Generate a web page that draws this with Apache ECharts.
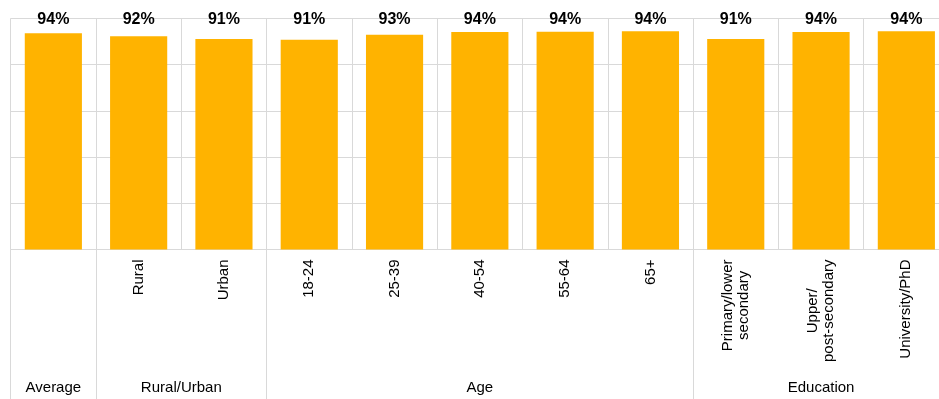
<!DOCTYPE html>
<html>
<head>
<meta charset="utf-8">
<script src="https://cdn.jsdelivr.net/npm/echarts@6/dist/echarts.min.js"></script>
<style>
html,body{margin:0;padding:0;background:#fff;}
#chart{width:939px;height:399px;}
</style>
</head>
<body>
<div id="chart"></div>
<script>
const categories = ['Average','Rural','Urban','18-24','25-39','40-54','55-64','65+','Primary/lower\nsecondary','Upper/\npost-secondary','University/PhD'];
const values = [93.5, 92.2, 91.0, 90.7, 92.9, 94.1, 94.2, 94.4, 91.0, 94.1, 94.4];
const valueLabels = ['94%','92%','91%','91%','93%','94%','94%','94%','91%','94%','94%'];
const groupNames = ['Average','Rural/Urban','Age','Education'];
const groupBounds = [0, 1, 3, 8, 11];
const yTicks = [0, 20, 40, 60, 80, 100];

const groupCenters = groupNames.map((g, i) => (groupBounds[i] + groupBounds[i + 1]) / 2);
const FONT = 'Liberation Sans, Arial, sans-serif';
const GRID = '#d9d9d9';

const chart = echarts.init(document.getElementById('chart'));
chart.setOption({
  animation: false,
  grid: { left: 10.7, width: 938.3, top: 18.3, bottom: 149.5, containLabel: false, outerBoundsMode: 'none' },
  xAxis: [
    {
      type: 'category',
      data: categories,
      position: 'bottom',
      axisLine: { show: true, lineStyle: { color: GRID, width: 1 } },
      axisTick: { show: false },
      splitLine: { show: true, interval: 0, lineStyle: { color: GRID, width: 1 } },
      axisLabel: {
        interval: 0,
        rotate: 90,
        margin: 10,
        fontFamily: FONT,
        fontSize: 15,
        color: '#000',
        formatter: (v, i) => groupBounds.indexOf(i) >= 0 && groupBounds[groupBounds.indexOf(i) + 1] === i + 1
          ? '' : v.split('\n').map(s => '{c|' + s + '}').join('\n'),
        rich: { c: { align: 'center', fontFamily: FONT, fontSize: 15, lineHeight: 16, color: '#000' } }
      }
    },
    {
      type: 'category',
      data: valueLabels,
      position: 'top',
      axisLine: { show: false },
      axisTick: { show: false },
      splitLine: { show: false },
      axisLabel: {
        interval: 0,
        margin: -1,
        verticalAlign: 'middle',
        fontFamily: FONT,
        fontSize: 16,
        fontWeight: 'bold',
        color: '#000'
      }
    },
    {
      type: 'value',
      min: groupBounds[0],
      max: groupBounds[groupBounds.length - 1],
      position: 'bottom',
      offset: 149.5,
      axisLine: { show: false },
      splitLine: { show: false },
      axisTick: {
        show: true,
        inside: true,
        length: 149.5,
        customValues: groupBounds,
        lineStyle: { color: GRID, width: 1 }
      },
      axisLabel: {
        show: true,
        inside: true,
        margin: 4,
        customValues: groupCenters,
        fontFamily: FONT,
        fontSize: 15,
        color: '#000',
        formatter: v => {
          const i = groupCenters.findIndex(c => Math.abs(c - v) < 1e-6);
          return i >= 0 ? groupNames[i] : '';
        }
      }
    }
  ],
  yAxis: {
    type: 'value',
    min: yTicks[0],
    max: yTicks[yTicks.length - 1],
    interval: yTicks[1] - yTicks[0],
    axisLine: { show: false },
    axisTick: { show: false },
    axisLabel: { show: false },
    splitLine: { show: true, lineStyle: { color: GRID, width: 1 } }
  },
  series: [
    {
      type: 'bar',
      xAxisIndex: 0,
      data: values,
      barWidth: '67%',
      itemStyle: { color: '#FFB300' },
      label: { show: false }
    }
  ]
});
</script>
</body>
</html>
